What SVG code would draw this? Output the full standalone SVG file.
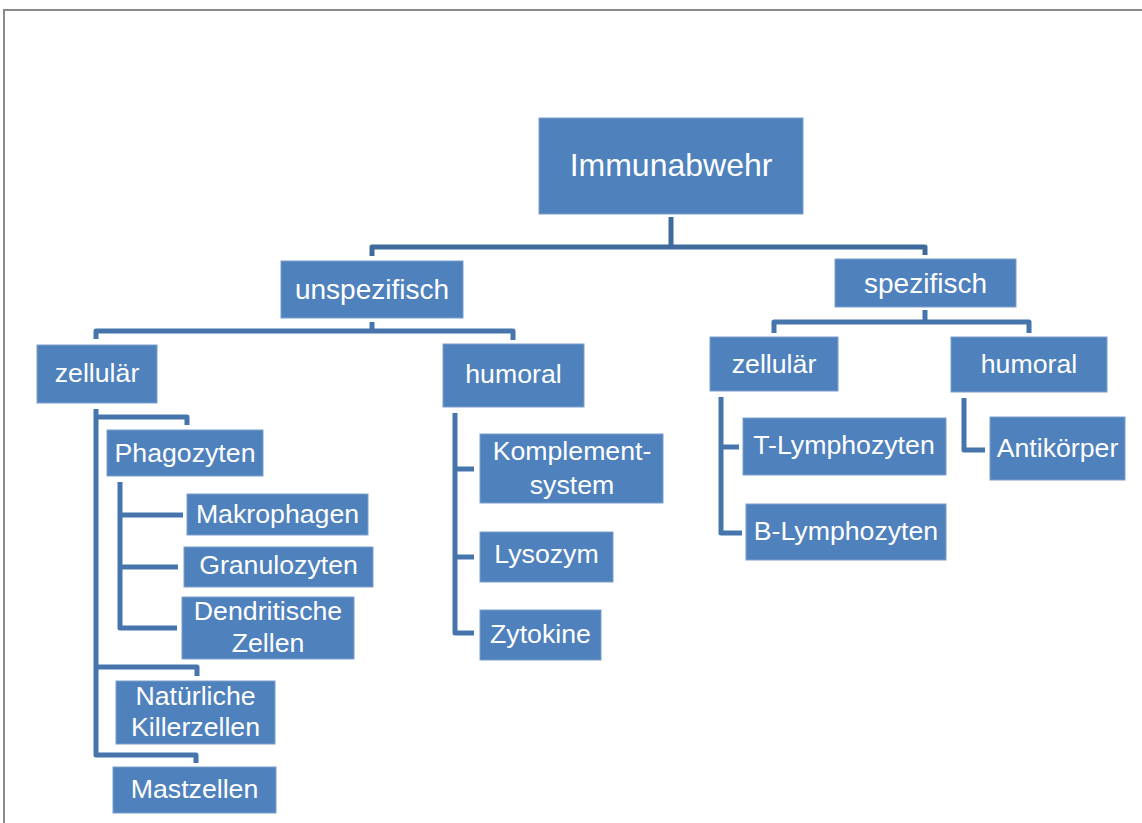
<svg xmlns="http://www.w3.org/2000/svg" width="1142" height="823" viewBox="0 0 1142 823">
<style>
.box{fill:#4F81BD;stroke:#7C9FCC;stroke-width:1}
.t{font-family:"Liberation Sans",Arial,sans-serif;fill:#FFFFFF;text-anchor:middle}
.t0{font-size:32px}
.t1{font-size:28px}
.t2{font-size:26.7px}
.c{fill:none;stroke-width:5;stroke-linejoin:round}
.c0{stroke:#3F6A9C}
.c1{stroke:#4674AC}
</style>
<rect width="1142" height="823" fill="#FFFFFF"/>
<path d="M4,823 V10 H1142" fill="none" stroke="#8A8A8A" stroke-width="2"/>
<g id="connectors">
<path class="c c0" d="M671,217 V247"/>
<path class="c c0" d="M372,256 V247 H925 V255"/>
<path class="c c1" d="M372,322 V331"/>
<path class="c c1" d="M96,339 V331 H513 V340"/>
<path class="c c1" d="M925,310 V322"/>
<path class="c c1" d="M774,333 V322 H1029 V333"/>
<path class="c c1" d="M96,409 V755 H196 V763"/>
<path class="c c1" d="M96,417 H187 V425"/>
<path class="c c1" d="M96,667 H197 V676"/>
<path class="c c1" d="M120,482 V628 H177"/>
<path class="c c1" d="M120,515 H183"/>
<path class="c c1" d="M120,567 H178"/>
<path class="c c1" d="M455,413 V633 H474"/>
<path class="c c1" d="M455,469 H474"/>
<path class="c c1" d="M455,557 H474"/>
<path class="c c1" d="M721,397 V533 H742"/>
<path class="c c1" d="M721,447 H739"/>
<path class="c c1" d="M964,398 V450 H985"/>
</g>
<g id="immunabwehr"><rect class="box" x="539" y="118" width="264" height="96"/><text class="t t0" x="671" y="176">Immunabwehr</text></g>
<g id="unspezifisch"><rect class="box" x="281" y="261" width="182" height="57"/><text class="t t1" x="372" y="299">unspezifisch</text></g>
<g id="spezifisch"><rect class="box" x="835" y="259" width="181" height="48"/><text class="t t1" x="925.5" y="293">spezifisch</text></g>
<g id="zellulaer-unspez"><rect class="box" x="37" y="345" width="120" height="58"/><text class="t t2" x="97" y="382">zellulär</text></g>
<g id="humoral-unspez"><rect class="box" x="443" y="344" width="141" height="63"/><text class="t t2" x="513.5" y="383">humoral</text></g>
<g id="phagozyten"><rect class="box" x="107" y="430" width="156" height="46"/><text class="t t2" x="185" y="462">Phagozyten</text></g>
<g id="makrophagen"><rect class="box" x="187" y="494" width="181" height="41"/><text class="t t2" x="277.5" y="523">Makrophagen</text></g>
<g id="granulozyten"><rect class="box" x="184" y="547" width="189" height="40"/><text class="t t2" x="278.5" y="574">Granulozyten</text></g>
<g id="dendritische"><rect class="box" x="182" y="597" width="172" height="62"/><text class="t t2" x="268" y="620">Dendritische</text><text class="t t2" x="268" y="652">Zellen</text></g>
<g id="nk"><rect class="box" x="116" y="681" width="159" height="63"/><text class="t t2" x="195.5" y="705">Natürliche</text><text class="t t2" x="195.5" y="736">Killerzellen</text></g>
<g id="mastzellen"><rect class="box" x="113" y="767" width="163" height="46"/><text class="t t2" x="194.5" y="798">Mastzellen</text></g>
<g id="komplement"><rect class="box" x="480" y="434" width="183" height="69"/><text class="t t2" x="572" y="460">Komplement-</text><text class="t t2" x="572" y="494">system</text></g>
<g id="lysozym"><rect class="box" x="480" y="532" width="133" height="50"/><text class="t t2" x="546.5" y="563">Lysozym</text></g>
<g id="zytokine"><rect class="box" x="480" y="610" width="121" height="50"/><text class="t t2" x="540.5" y="643">Zytokine</text></g>
<g id="zellulaer-spez"><rect class="box" x="710" y="337" width="128" height="54"/><text class="t t2" x="774" y="373">zellulär</text></g>
<g id="humoral-spez"><rect class="box" x="951" y="337" width="156" height="55"/><text class="t t2" x="1029" y="373">humoral</text></g>
<g id="t-lymphozyten"><rect class="box" x="743" y="418" width="203" height="57"/><text class="t t2" x="844" y="454">T-Lymphozyten</text></g>
<g id="b-lymphozyten"><rect class="box" x="746" y="504" width="200" height="56"/><text class="t t2" x="846" y="540">B-Lymphozyten</text></g>
<g id="antikoerper"><rect class="box" x="990" y="417" width="135" height="63"/><text class="t t2" x="1057.5" y="457">Antikörper</text></g>
</svg>
